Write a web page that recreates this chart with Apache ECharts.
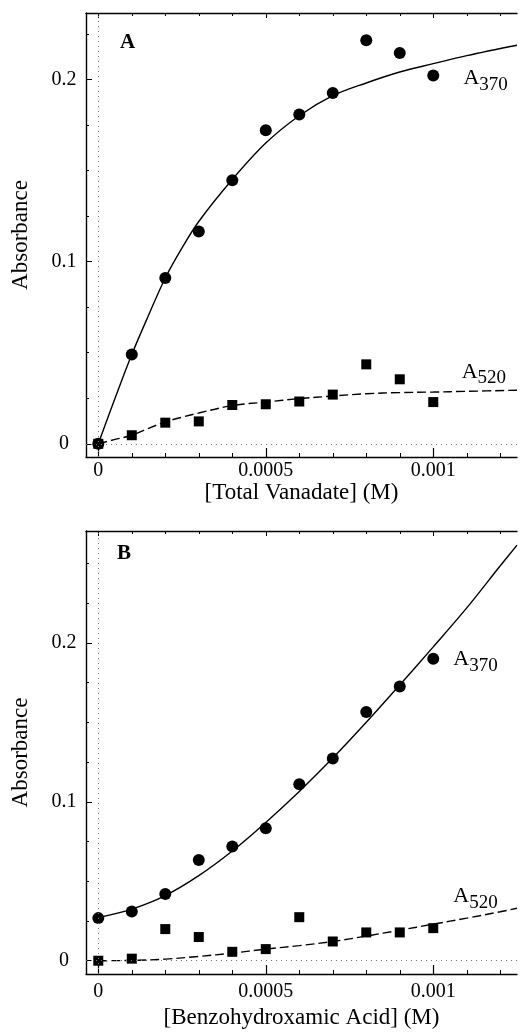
<!DOCTYPE html>
<html>
<head>
<meta charset="utf-8">
<script src="https://cdn.jsdelivr.net/npm/echarts@6/dist/echarts.min.js"></script>
<style>
  html, body { margin: 0; padding: 0; background: #fff; }
  #chart { width: 522px; height: 1032px; }
</style>
</head>
<body>
<div id="chart"></div>
<script>
// measured points, panel A (total vanadate) and panel B (benzohydroxamic acid)
const conc = [0, 0.0001, 0.0002, 0.0003, 0.0004, 0.0005, 0.0006, 0.0007, 0.0008, 0.0009, 0.001];
const a370A = [0, 0.049, 0.091, 0.1165, 0.1446, 0.172, 0.1807, 0.1925, 0.2215, 0.2145, 0.2021];
const a520A = [0, 0.0047, 0.0116, 0.0123, 0.0213, 0.0217, 0.0232, 0.027, 0.0436, 0.0354, 0.0229];
const a370B = [0.0268, 0.031, 0.042, 0.0634, 0.0718, 0.0833, 0.111, 0.1272, 0.1565, 0.1726, 0.19];
const a520B = [0, 0.0013, 0.0199, 0.0149, 0.0056, 0.0073, 0.0274, 0.0121, 0.0178, 0.0178, 0.0205];

// fitted curves
const fitXA = [0, 0.00005, 0.0001, 0.00015, 0.0002, 0.00025, 0.0003, 0.0004, 0.0005, 0.0006, 0.0007, 0.0008, 0.0009, 0.001, 0.0011, 0.00125];
const fit370A = [0, 0.025, 0.049, 0.0705, 0.091, 0.1075, 0.122, 0.145, 0.165, 0.18, 0.191, 0.198, 0.204, 0.2086, 0.213, 0.2187];
const fit520A = [0, 0.0024, 0.0047, 0.0085, 0.012, 0.0146, 0.0169, 0.021, 0.0229, 0.0248, 0.0262, 0.0275, 0.0281, 0.0284, 0.0288, 0.0294];
const fitXB = [0, 0.0001, 0.0002, 0.0003, 0.0004, 0.0005, 0.0006, 0.0007, 0.0008, 0.0009, 0.001, 0.0011, 0.0012, 0.00125];
const fit370B = [0.0272, 0.0325, 0.041, 0.0535, 0.069, 0.087, 0.1065, 0.1275, 0.15, 0.1735, 0.1975, 0.222, 0.2485, 0.2615];
const fit520B = [0, 0.0002, 0.001, 0.0027, 0.0048, 0.0073, 0.0095, 0.0121, 0.0155, 0.0192, 0.023, 0.0268, 0.0308, 0.033];

// ticks
const xMajor = [0, 0.0005, 0.001];
const xMinor = [0.0001, 0.0002, 0.0003, 0.0004, 0.0006, 0.0007, 0.0008, 0.0009, 0.0011, 0.0012];
const yMajor = [0, 0.1, 0.2];
const yMinorA = [0.025, 0.05, 0.075, 0.125, 0.15, 0.175, 0.225];
const yMinorB = [0.025, 0.05, 0.075, 0.125, 0.15, 0.175, 0.225, 0.25];

const xTitleA = '[Total Vanadate] (M)';
const xTitleB = '[Benzohydroxamic Acid] (M)';
const yTitle = 'Absorbance';

const FONT = '"Liberation Serif", "Times New Roman", serif';
const INK = '#000';
const X_MIN = -0.0000367, X_MAX = 0.00125;

const zip = (xs, ys) => xs.map((x, i) => [x, ys[i]]);

function xAxesFor(grid, name, nameGap, labelMargin) {
  const base = { type: 'value', gridIndex: grid, min: X_MIN, max: X_MAX, splitLine: { show: false } };
  const line = { show: true, onZero: false, lineStyle: { color: INK, width: 1.4 } };
  return [
    Object.assign({}, base, {
      position: 'bottom', axisLine: line,
      axisTick: { inside: true, length: 9, customValues: xMajor, lineStyle: { color: INK, width: 1.2 } },
      axisLabel: { customValues: xMajor, formatter: v => String(v), margin: labelMargin, color: INK, fontSize: 20, fontFamily: FONT },
      name: name, nameLocation: 'middle', nameGap: nameGap,
      nameTextStyle: { color: INK, fontSize: 23, fontFamily: FONT }
    }),
    Object.assign({}, base, {
      position: 'bottom', axisLine: { show: false, onZero: false },
      axisTick: { inside: true, length: 4, customValues: xMinor, lineStyle: { color: INK } },
      axisLabel: { show: false }
    }),
    Object.assign({}, base, {
      position: 'top', axisLine: line,
      axisTick: { inside: true, length: 5, customValues: xMajor, lineStyle: { color: INK } },
      axisLabel: { show: false }
    }),
    Object.assign({}, base, {
      position: 'top', axisLine: { show: false, onZero: false },
      axisTick: { inside: true, length: 3, customValues: xMinor, lineStyle: { color: INK } },
      axisLabel: { show: false }
    })
  ];
}

function yAxesFor(grid, min, max, minors) {
  const base = { type: 'value', gridIndex: grid, min: min, max: max, position: 'left', splitLine: { show: false } };
  return [
    Object.assign({}, base, {
      axisLine: { show: true, onZero: false, lineStyle: { color: INK, width: 1.4 } },
      axisTick: { inside: true, length: 6, customValues: yMajor, lineStyle: { color: INK } },
      axisLabel: { customValues: yMajor, formatter: v => String(v), align: 'center', margin: 22, color: INK, fontSize: 20, fontFamily: FONT },
      name: yTitle, nameLocation: 'middle', nameGap: 54,
      nameTextStyle: { color: INK, fontSize: 23, fontFamily: FONT }
    }),
    Object.assign({}, base, {
      axisLine: { show: false, onZero: false },
      axisTick: { inside: true, length: 3, customValues: minors, lineStyle: { color: INK } },
      axisLabel: { show: false }
    })
  ];
}

function panelSeries(xi, yi, pts370, pts520, fx, f370, f520, lab370, lab520) {
  const common = { xAxisIndex: xi, yAxisIndex: yi, silent: true, animation: false };
  const rich = {
    a: { fontSize: 22, lineHeight: 22, fontFamily: FONT, color: INK, verticalAlign: 'top' },
    s: { fontSize: 19, lineHeight: 19, fontFamily: FONT, color: INK, verticalAlign: 'top', padding: [8, 0, 0, 0] }
  };
  const tag = (pos, sub) => Object.assign({}, common, {
    type: 'scatter', data: [pos], symbolSize: 0, z: 5,
    itemStyle: { opacity: 1 },
    label: { show: true, position: 'right', distance: 0, color: INK, opacity: 1, formatter: '{a|A}{s|' + sub + '}', rich: rich }
  });
  return [
    Object.assign({}, common, {
      type: 'line', data: zip(fx, f520), smooth: 0.35, showSymbol: false, z: 2,
      lineStyle: { color: INK, width: 1.4, type: [9, 4] },
      markLine: {
        silent: true, symbol: 'none', label: { show: false },
        lineStyle: { color: '#777', width: 1, type: [1, 4] },
        data: [{ xAxis: 0 }, { yAxis: 0 }]
      }
    }),
    Object.assign({}, common, {
      type: 'line', data: zip(fx, f370), smooth: 0.35, showSymbol: false, z: 2,
      lineStyle: { color: INK, width: 1.4 }
    }),
    Object.assign({}, common, {
      type: 'scatter', data: zip(conc, pts370), symbol: 'circle', symbolSize: 12, z: 4,
      itemStyle: { color: INK, opacity: 1 }
    }),
    Object.assign({}, common, {
      type: 'scatter', data: zip(conc, pts520), symbol: 'rect', symbolSize: 10, z: 4,
      itemStyle: { color: INK, opacity: 1 }
    }),
    tag(lab370, '370'),
    tag(lab520, '520')
  ];
}

const chart = echarts.init(document.getElementById('chart'), null, { renderer: 'canvas' });
chart.setOption({
  animation: false,
  backgroundColor: '#fff',
  grid: [
    { left: 86, top: 13, width: 431, height: 444, outerBoundsMode: 'none' },
    { left: 86, top: 531, width: 431, height: 443, outerBoundsMode: 'none' }
  ],
  xAxis: xAxesFor(0, xTitleA, 24, 4).concat(xAxesFor(1, xTitleB, 32, 8)),
  yAxis: yAxesFor(0, -0.00724, 0.2364, yMinorA).concat(yAxesFor(1, -0.00836, 0.2704, yMinorB)),
  graphic: [
    { type: 'text', left: 120, top: 32, style: { text: 'A', font: 'bold 21px ' + FONT, fill: INK } },
    { type: 'text', left: 117, top: 543, style: { text: 'B', font: 'bold 21px ' + FONT, fill: INK } }
  ],
  series: panelSeries(0, 0, a370A, a520A, fitXA, fit370A, fit520A, [0.00109, 0.2006], [0.001085, 0.0395])
    .concat(panelSeries(4, 2, a370B, a520B, fitXB, fit370B, fit520B, [0.00106, 0.1898], [0.00106, 0.0405]))
});
</script>
</body>
</html>
